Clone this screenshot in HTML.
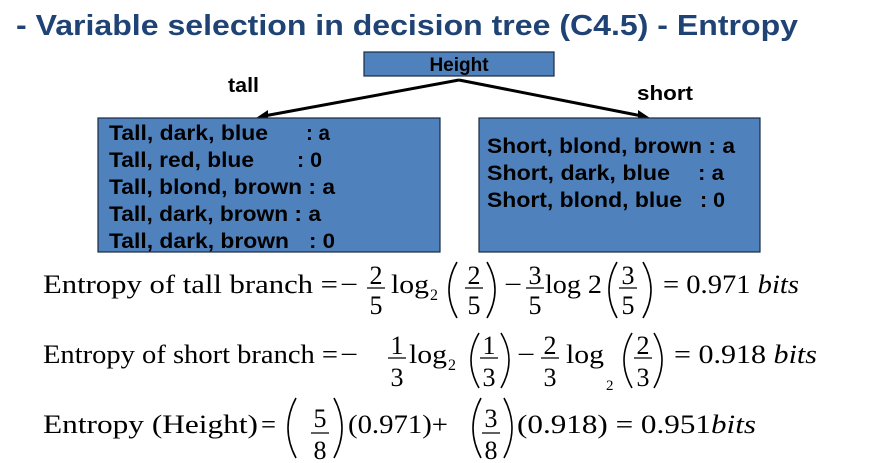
<!DOCTYPE html>
<html><head><meta charset="utf-8"><style>
html,body{margin:0;padding:0;background:#fff;width:889px;height:463px;overflow:hidden}
svg{display:block}
.t{font-family:"Liberation Sans",Arial,sans-serif;font-weight:bold}
.m{font-family:"Liberation Serif","Times New Roman",serif;fill:#000}
.p{fill:none;stroke:#000;stroke-width:1.6}
</style></head><body>
<svg width="889" height="463" viewBox="0 0 889 463" xmlns="http://www.w3.org/2000/svg">
<text x="16" y="35" class="t" font-size="29" fill="#1f4375" textLength="782" lengthAdjust="spacingAndGlyphs">- Variable selection in decision tree (C4.5) - Entropy</text>
<rect x="364" y="52" width="190" height="24" fill="#4f81bd" stroke="#1a2a40" stroke-width="1.2"/>
<text x="459" y="71" class="t" font-size="19" text-anchor="middle">Height</text>
<text x="228" y="92" class="t" font-size="20" textLength="31" lengthAdjust="spacingAndGlyphs">tall</text>
<text x="637" y="100" class="t" font-size="20" textLength="56" lengthAdjust="spacingAndGlyphs">short</text>
<line x1="459" y1="80" x2="264" y2="116" stroke="#000" stroke-width="3"/>
<polygon points="256,118 268,110 268,120" fill="#000"/>
<line x1="459" y1="80" x2="642" y2="116" stroke="#000" stroke-width="3"/>
<polygon points="650,118 638,110 638,120" fill="#000"/>
<rect x="98" y="118" width="342" height="134" fill="#4f81bd" stroke="#1a2a40" stroke-width="1.2"/>
<rect x="479" y="118" width="281" height="134" fill="#4f81bd" stroke="#1a2a40" stroke-width="1.2"/>
<g class="t" font-size="21" fill="#000">
<text x="109" y="140" textLength="159" lengthAdjust="spacingAndGlyphs">Tall, dark, blue</text><text x="306" y="140" textLength="24" lengthAdjust="spacingAndGlyphs">: a</text>
<text x="109" y="167" textLength="145" lengthAdjust="spacingAndGlyphs">Tall, red, blue</text><text x="297" y="167" textLength="25" lengthAdjust="spacingAndGlyphs">: 0</text>
<text x="109" y="194" textLength="226" lengthAdjust="spacingAndGlyphs">Tall, blond, brown : a</text>
<text x="109" y="221" textLength="212" lengthAdjust="spacingAndGlyphs">Tall, dark, brown : a</text>
<text x="109" y="248" textLength="180" lengthAdjust="spacingAndGlyphs">Tall, dark, brown</text><text x="309" y="248" textLength="26" lengthAdjust="spacingAndGlyphs">: 0</text>
<text x="487" y="153" textLength="248" lengthAdjust="spacingAndGlyphs">Short, blond, brown : a</text>
<text x="487" y="180" textLength="183" lengthAdjust="spacingAndGlyphs">Short, dark, blue</text><text x="698" y="180" textLength="26" lengthAdjust="spacingAndGlyphs">: a</text>
<text x="487" y="207" textLength="195" lengthAdjust="spacingAndGlyphs">Short, blond, blue</text><text x="700" y="207" textLength="25" lengthAdjust="spacingAndGlyphs">: 0</text>
</g>
<g class="m" font-size="26">
<!-- line 1 -->
<text x="43" y="293" textLength="295" lengthAdjust="spacingAndGlyphs">Entropy of  tall branch =</text>
<text x="340" y="293" textLength="18" lengthAdjust="spacingAndGlyphs">−</text>
<text x="376" y="284" text-anchor="middle">2</text><line x1="367" y1="288" x2="385" y2="288" stroke="#000" stroke-width="1.2"/><text x="376" y="314" text-anchor="middle">5</text>
<text x="391" y="293" textLength="38" lengthAdjust="spacingAndGlyphs">log</text><text x="430" y="300" font-size="16">2</text>
<path class="p" d="M457,262 Q441,290 457,318"/>
<text x="474" y="284" text-anchor="middle">2</text><line x1="465" y1="288" x2="483" y2="288" stroke="#000" stroke-width="1.2"/><text x="474" y="314" text-anchor="middle">5</text>
<path class="p" d="M487,262 Q503,290 487,318"/>
<text x="504" y="293" textLength="18" lengthAdjust="spacingAndGlyphs">−</text>
<text x="535" y="284" text-anchor="middle">3</text><line x1="526" y1="288" x2="544" y2="288" stroke="#000" stroke-width="1.2"/><text x="535" y="314" text-anchor="middle">5</text>
<text x="545" y="293" textLength="57" lengthAdjust="spacingAndGlyphs">log 2</text>
<path class="p" d="M617,262 Q601,290 617,318"/>
<text x="628" y="284" text-anchor="middle">3</text><line x1="619" y1="288" x2="637" y2="288" stroke="#000" stroke-width="1.2"/><text x="628" y="314" text-anchor="middle">5</text>
<path class="p" d="M643,262 Q659,290 643,318"/>
<text x="663" y="293" textLength="136" lengthAdjust="spacingAndGlyphs">= 0.971 <tspan font-style="italic">bits</tspan></text>
<!-- line 2 -->
<text x="43" y="363" textLength="295" lengthAdjust="spacingAndGlyphs">Entropy of short branch =</text>
<text x="340" y="363" textLength="18" lengthAdjust="spacingAndGlyphs">−</text>
<text x="397" y="354" text-anchor="middle">1</text><line x1="388" y1="358" x2="406" y2="358" stroke="#000" stroke-width="1.2"/><text x="397" y="386" text-anchor="middle">3</text>
<text x="409" y="363" textLength="38" lengthAdjust="spacingAndGlyphs">log</text><text x="448" y="370" font-size="16">2</text>
<path class="p" d="M479,333 Q463,360 479,388"/>
<text x="489" y="354" text-anchor="middle">1</text><line x1="480" y1="358" x2="498" y2="358" stroke="#000" stroke-width="1.2"/><text x="489" y="386" text-anchor="middle">3</text>
<path class="p" d="M501,333 Q517,360 501,388"/>
<text x="517" y="363" textLength="18" lengthAdjust="spacingAndGlyphs">−</text>
<text x="550" y="354" text-anchor="middle">2</text><line x1="541" y1="358" x2="559" y2="358" stroke="#000" stroke-width="1.2"/><text x="550" y="386" text-anchor="middle">3</text>
<text x="566" y="363" textLength="38" lengthAdjust="spacingAndGlyphs">log</text><text x="606" y="390" font-size="15">2</text>
<path class="p" d="M632,333 Q616,360 632,388"/>
<text x="643" y="354" text-anchor="middle">2</text><line x1="634" y1="358" x2="652" y2="358" stroke="#000" stroke-width="1.2"/><text x="643" y="386" text-anchor="middle">3</text>
<path class="p" d="M654,333 Q670,360 654,388"/>
<text x="674" y="363" textLength="143" lengthAdjust="spacingAndGlyphs">= 0.918 <tspan font-style="italic">bits</tspan></text>
<!-- line 3 -->
<text x="43" y="433" textLength="215" lengthAdjust="spacingAndGlyphs">Entropy (Height)</text>
<text x="261" y="433" textLength="15" lengthAdjust="spacingAndGlyphs">=</text>
<path class="p" d="M296,398 Q280,428 296,458"/>
<text x="320" y="427" text-anchor="middle">5</text><line x1="311" y1="433" x2="329" y2="433" stroke="#000" stroke-width="1.2"/><text x="320" y="459" text-anchor="middle">8</text>
<path class="p" d="M334,398 Q350,428 334,458"/>
<text x="348" y="433" textLength="100" lengthAdjust="spacingAndGlyphs">(0.971)+</text>
<path class="p" d="M481,398 Q465,428 481,458"/>
<text x="491" y="427" text-anchor="middle">3</text><line x1="482" y1="433" x2="500" y2="433" stroke="#000" stroke-width="1.2"/><text x="491" y="459" text-anchor="middle">8</text>
<path class="p" d="M504,398 Q520,428 504,458"/>
<text x="517" y="433" textLength="239" lengthAdjust="spacingAndGlyphs">(0.918) = 0.951<tspan font-style="italic">bits</tspan></text>
</g>
</svg>
</body></html>
